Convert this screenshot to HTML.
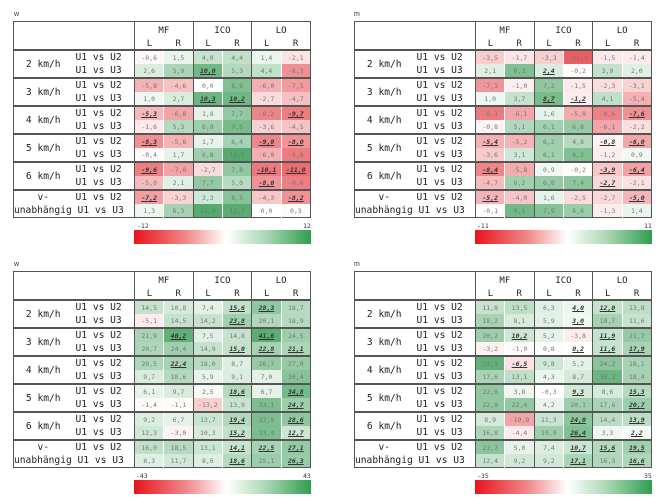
<!DOCTYPE html>
<html><head><meta charset="utf-8"><style>
body{margin:0;width:657px;height:497px;background:#fff;position:relative;overflow:hidden;font-family:"DejaVu Sans Mono","Liberation Mono",monospace;}
.t{position:absolute;font-size:7px;color:#333;font-family:"Liberation Sans",sans-serif;}
table{position:absolute;border-collapse:collapse;table-layout:fixed;width:298px;border:1.5px solid #555;}
td{padding:0;height:13px;text-align:center;font-size:6.5px;color:#777;overflow:hidden;white-space:nowrap;}
td.v{border-left:1px solid #fff;}
td.g{border-left:1px solid #555;}
tr.h1 td{height:17px;font-size:9px;color:#222;}
tr.h2 td{height:10px;font-size:9px;color:#222;}
td.s{font-size:9.6px;color:#222;text-align:center;}
td.q{font-size:9.6px;color:#222;text-align:left;padding-left:3px;}
tr.f td{border-top:2px solid #555;}
tr.hb td{border-top:2px solid #555;}
u{font-weight:bold;font-style:italic;color:#333;}
.cb{position:absolute;height:14px;width:177px;background:linear-gradient(to right,#e8141c,#f08a8a 30%,#fff 52%,#a9d6b3 75%,#2e9e4e);}
.cl{position:absolute;font-size:6.5px;color:#333;}
</style></head><body>

<div class="t" style="left:14px;top:11px">w</div>
<table data-max="12" style="left:13px;top:21px">
<colgroup><col style="width:59px"><col style="width:62px"><col><col><col><col><col><col></colgroup>
<tr class="h1"><td colspan="2" rowspan="2" style="border-right:1px solid #555"></td><td colspan="2">MF</td><td colspan="2" class="g">ICO</td><td colspan="2" class="g">LO</td></tr>
<tr class="h2"><td>L</td><td>R</td><td class="g">L</td><td>R</td><td class="g">L</td><td>R</td></tr>
<tr class="hb"><td rowspan="2" class="s">2 km/h</td><td class="q">U1 vs U2</td><td class="v g">-0,6</td><td class="v">1,5</td><td class="v g">4,0</td><td class="v">4,4</td><td class="v g">1,4</td><td class="v">-2,1</td></tr>
<tr><td class="q">U1 vs U3</td><td class="v g">2,6</td><td class="v">5,9</td><td class="v g"><u>10,0</u></td><td class="v">5,3</td><td class="v g">4,4</td><td class="v">-8,3</td></tr>
<tr class="f"><td rowspan="2" class="s">3 km/h</td><td class="q">U1 vs U2</td><td class="v g">-5,8</td><td class="v">-4,6</td><td class="v g">0,0</td><td class="v">8,9</td><td class="v g">-6,0</td><td class="v">-7,5</td></tr>
<tr><td class="q">U1 vs U3</td><td class="v g">1,0</td><td class="v">2,7</td><td class="v g"><u>10,3</u></td><td class="v"><u>10,2</u></td><td class="v g">-2,7</td><td class="v">-4,7</td></tr>
<tr class="f"><td rowspan="2" class="s">4 km/h</td><td class="q">U1 vs U2</td><td class="v g"><u>-5,3</u></td><td class="v">-6,8</td><td class="v g">1,8</td><td class="v">7,7</td><td class="v g">-9,2</td><td class="v"><u>-9,7</u></td></tr>
<tr><td class="q">U1 vs U3</td><td class="v g">-1,6</td><td class="v">5,3</td><td class="v g">6,9</td><td class="v">9,5</td><td class="v g">-3,6</td><td class="v">-4,5</td></tr>
<tr class="f"><td rowspan="2" class="s">5 km/h</td><td class="q">U1 vs U2</td><td class="v g"><u>-8,3</u></td><td class="v">-5,8</td><td class="v g">1,7</td><td class="v">6,4</td><td class="v g"><u>-9,0</u></td><td class="v"><u>-8,0</u></td></tr>
<tr><td class="q">U1 vs U3</td><td class="v g">-0,4</td><td class="v">1,7</td><td class="v g">6,8</td><td class="v">12,5</td><td class="v g">-6,0</td><td class="v">-9,8</td></tr>
<tr class="f"><td rowspan="2" class="s">6 km/h</td><td class="q">U1 vs U2</td><td class="v g"><u>-9,6</u></td><td class="v">-7,0</td><td class="v g">-2,7</td><td class="v">7,8</td><td class="v g"><u>-10,1</u></td><td class="v"><u>-11,0</u></td></tr>
<tr><td class="q">U1 vs U3</td><td class="v g">-5,0</td><td class="v">2,1</td><td class="v g">7,7</td><td class="v">5,0</td><td class="v g"><u>-8,0</u></td><td class="v">-9,6</td></tr>
<tr class="f"><td class="s">v-</td><td class="q">U1 vs U2</td><td class="v g"><u>-7,2</u></td><td class="v">-3,3</td><td class="v g">3,3</td><td class="v">8,5</td><td class="v g">-4,3</td><td class="v"><u>-8,2</u></td></tr>
<tr><td class="s" colspan="2" style="text-align:left">unabhängig U1 vs U3</td><td class="v g">1,3</td><td class="v">6,3</td><td class="v g">12,0</td><td class="v">11,7</td><td class="v g">0,0</td><td class="v">0,3</td></tr>
</table>
<div class="cl" style="left:137px;top:222px">-12</div><div class="cl" style="left:303px;top:222px">12</div>
<div class="cb" style="left:134px;top:230px"></div>

<div class="t" style="left:354px;top:11px">m</div>
<table data-max="11" style="left:354px;top:21px">
<colgroup><col style="width:59px"><col style="width:62px"><col><col><col><col><col><col></colgroup>
<tr class="h1"><td colspan="2" rowspan="2" style="border-right:1px solid #555"></td><td colspan="2">MF</td><td colspan="2" class="g">ICO</td><td colspan="2" class="g">LO</td></tr>
<tr class="h2"><td>L</td><td>R</td><td class="g">L</td><td>R</td><td class="g">L</td><td>R</td></tr>
<tr class="hb"><td rowspan="2" class="s">2 km/h</td><td class="q">U1 vs U2</td><td class="v g">-3,5</td><td class="v">-1,7</td><td class="v g">-3,3</td><td class="v">-11,1</td><td class="v g">-1,5</td><td class="v">-1,4</td></tr>
<tr><td class="q">U1 vs U3</td><td class="v g">2,1</td><td class="v">8,3</td><td class="v g"><u>2,4</u></td><td class="v">-0,2</td><td class="v g">3,9</td><td class="v">2,0</td></tr>
<tr class="f"><td rowspan="2" class="s">3 km/h</td><td class="q">U1 vs U2</td><td class="v g">-7,3</td><td class="v">-1,0</td><td class="v g">7,2</td><td class="v">-1,5</td><td class="v g">-2,3</td><td class="v">-3,1</td></tr>
<tr><td class="q">U1 vs U3</td><td class="v g">1,0</td><td class="v">3,7</td><td class="v g"><u>8,7</u></td><td class="v"><u>-1,2</u></td><td class="v g">4,1</td><td class="v">-5,4</td></tr>
<tr class="f"><td rowspan="2" class="s">4 km/h</td><td class="q">U1 vs U2</td><td class="v g">-9,1</td><td class="v">-6,1</td><td class="v g">1,6</td><td class="v">-5,8</td><td class="v g">-8,6</td><td class="v"><u>-7,6</u></td></tr>
<tr><td class="q">U1 vs U3</td><td class="v g">-0,8</td><td class="v">5,1</td><td class="v g">6,1</td><td class="v">6,8</td><td class="v g">-6,1</td><td class="v">-2,2</td></tr>
<tr class="f"><td rowspan="2" class="s">5 km/h</td><td class="q">U1 vs U2</td><td class="v g"><u>-5,4</u></td><td class="v">-5,2</td><td class="v g">6,2</td><td class="v">4,8</td><td class="v g"><u>-0,8</u></td><td class="v"><u>-6,0</u></td></tr>
<tr><td class="q">U1 vs U3</td><td class="v g">-3,6</td><td class="v">3,1</td><td class="v g">6,1</td><td class="v">8,2</td><td class="v g">-1,2</td><td class="v">0,9</td></tr>
<tr class="f"><td rowspan="2" class="s">6 km/h</td><td class="q">U1 vs U2</td><td class="v g"><u>-8,4</u></td><td class="v">-5,8</td><td class="v g">0,9</td><td class="v">-0,2</td><td class="v g"><u>-3,9</u></td><td class="v"><u>-6,4</u></td></tr>
<tr><td class="q">U1 vs U3</td><td class="v g">-4,7</td><td class="v">6,2</td><td class="v g">6,8</td><td class="v">7,4</td><td class="v g"><u>-2,7</u></td><td class="v">-2,1</td></tr>
<tr class="f"><td class="s">v-</td><td class="q">U1 vs U2</td><td class="v g"><u>-5,2</u></td><td class="v">-4,0</td><td class="v g">1,6</td><td class="v">-2,5</td><td class="v g">-2,7</td><td class="v"><u>-5,0</u></td></tr>
<tr><td class="s" colspan="2" style="text-align:left">unabhängig U1 vs U3</td><td class="v g">-0,1</td><td class="v">9,1</td><td class="v g">7,9</td><td class="v">6,6</td><td class="v g">-1,3</td><td class="v">1,4</td></tr>
</table>
<div class="cl" style="left:477px;top:222px">-11</div><div class="cl" style="left:644px;top:222px">11</div>
<div class="cb" style="left:475px;top:230px"></div>

<div class="t" style="left:14px;top:261px">w</div>
<table data-max="43" style="left:13px;top:271px">
<colgroup><col style="width:59px"><col style="width:62px"><col><col><col><col><col><col></colgroup>
<tr class="h1"><td colspan="2" rowspan="2" style="border-right:1px solid #555"></td><td colspan="2">MF</td><td colspan="2" class="g">ICO</td><td colspan="2" class="g">LO</td></tr>
<tr class="h2"><td>L</td><td>R</td><td class="g">L</td><td>R</td><td class="g">L</td><td>R</td></tr>
<tr class="hb"><td rowspan="2" class="s">2 km/h</td><td class="q">U1 vs U2</td><td class="v g">14,5</td><td class="v">10,8</td><td class="v g">7,4</td><td class="v"><u>15,6</u></td><td class="v g"><u>28,3</u></td><td class="v">18,7</td></tr>
<tr><td class="q">U1 vs U3</td><td class="v g">-5,1</td><td class="v">14,5</td><td class="v g">14,2</td><td class="v"><u>23,8</u></td><td class="v g">20,1</td><td class="v">18,9</td></tr>
<tr class="f"><td rowspan="2" class="s">3 km/h</td><td class="q">U1 vs U2</td><td class="v g">21,9</td><td class="v"><u>40,2</u></td><td class="v g">7,5</td><td class="v">14,8</td><td class="v g"><u>41,6</u></td><td class="v">24,5</td></tr>
<tr><td class="q">U1 vs U3</td><td class="v g">20,7</td><td class="v">24,4</td><td class="v g">14,9</td><td class="v"><u>15,0</u></td><td class="v g"><u>22,8</u></td><td class="v"><u>21,1</u></td></tr>
<tr class="f"><td rowspan="2" class="s">4 km/h</td><td class="q">U1 vs U2</td><td class="v g">20,5</td><td class="v"><u>22,4</u></td><td class="v g">18,0</td><td class="v">8,7</td><td class="v g">26,7</td><td class="v">27,0</td></tr>
<tr><td class="q">U1 vs U3</td><td class="v g">9,7</td><td class="v">18,6</td><td class="v g">5,9</td><td class="v">9,1</td><td class="v g">7,0</td><td class="v">30,4</td></tr>
<tr class="f"><td rowspan="2" class="s">5 km/h</td><td class="q">U1 vs U2</td><td class="v g">6,1</td><td class="v">9,7</td><td class="v g">2,5</td><td class="v"><u>18,6</u></td><td class="v g">6,7</td><td class="v"><u>34,8</u></td></tr>
<tr><td class="q">U1 vs U3</td><td class="v g">-1,4</td><td class="v">-1,1</td><td class="v g">-13,2</td><td class="v">13,9</td><td class="v g">33,1</td><td class="v"><u>24,7</u></td></tr>
<tr class="f"><td rowspan="2" class="s">6 km/h</td><td class="q">U1 vs U2</td><td class="v g">9,2</td><td class="v">6,7</td><td class="v g">13,7</td><td class="v"><u>19,4</u></td><td class="v g">32,9</td><td class="v"><u>28,6</u></td></tr>
<tr><td class="q">U1 vs U3</td><td class="v g">12,3</td><td class="v">-3,0</td><td class="v g">10,3</td><td class="v"><u>15,2</u></td><td class="v g">33,4</td><td class="v"><u>12,7</u></td></tr>
<tr class="f"><td class="s">v-</td><td class="q">U1 vs U2</td><td class="v g">16,0</td><td class="v">18,5</td><td class="v g">13,1</td><td class="v"><u>14,1</u></td><td class="v g"><u>22,5</u></td><td class="v"><u>27,1</u></td></tr>
<tr><td class="s" colspan="2" style="text-align:left">unabhängig U1 vs U3</td><td class="v g">8,3</td><td class="v">11,7</td><td class="v g">8,6</td><td class="v"><u>18,6</u></td><td class="v g">25,1</td><td class="v"><u>26,3</u></td></tr>
</table>
<div class="cl" style="left:136px;top:472px">-43</div><div class="cl" style="left:303px;top:472px">43</div>
<div class="cb" style="left:134px;top:480px"></div>

<div class="t" style="left:354px;top:261px">m</div>
<table data-max="35" style="left:354px;top:271px">
<colgroup><col style="width:59px"><col style="width:62px"><col><col><col><col><col><col></colgroup>
<tr class="h1"><td colspan="2" rowspan="2" style="border-right:1px solid #555"></td><td colspan="2">MF</td><td colspan="2" class="g">ICO</td><td colspan="2" class="g">LO</td></tr>
<tr class="h2"><td>L</td><td>R</td><td class="g">L</td><td>R</td><td class="g">L</td><td>R</td></tr>
<tr class="hb"><td rowspan="2" class="s">2 km/h</td><td class="q">U1 vs U2</td><td class="v g">11,8</td><td class="v">13,5</td><td class="v g">6,3</td><td class="v"><u>4,0</u></td><td class="v g"><u>12,0</u></td><td class="v">13,8</td></tr>
<tr><td class="q">U1 vs U3</td><td class="v g">18,2</td><td class="v">8,1</td><td class="v g">5,9</td><td class="v"><u>3,0</u></td><td class="v g">18,7</td><td class="v">11,6</td></tr>
<tr class="f"><td rowspan="2" class="s">3 km/h</td><td class="q">U1 vs U2</td><td class="v g">20,2</td><td class="v"><u>10,2</u></td><td class="v g">5,2</td><td class="v">-3,8</td><td class="v g"><u>11,9</u></td><td class="v">21,7</td></tr>
<tr><td class="q">U1 vs U3</td><td class="v g">-3,2</td><td class="v">-1,0</td><td class="v g">0,8</td><td class="v"><u>0,2</u></td><td class="v g"><u>11,6</u></td><td class="v"><u>17,9</u></td></tr>
<tr class="f"><td rowspan="2" class="s">4 km/h</td><td class="q">U1 vs U2</td><td class="v g">32,3</td><td class="v"><u>-6,5</u></td><td class="v g">9,8</td><td class="v">5,2</td><td class="v g">24,2</td><td class="v">18,1</td></tr>
<tr><td class="q">U1 vs U3</td><td class="v g">17,6</td><td class="v">13,1</td><td class="v g">4,3</td><td class="v">8,7</td><td class="v g">30,3</td><td class="v">18,4</td></tr>
<tr class="f"><td rowspan="2" class="s">5 km/h</td><td class="q">U1 vs U2</td><td class="v g">22,6</td><td class="v">3,8</td><td class="v g">-0,3</td><td class="v"><u>9,3</u></td><td class="v g">8,6</td><td class="v"><u>15,3</u></td></tr>
<tr><td class="q">U1 vs U3</td><td class="v g">22,8</td><td class="v">22,4</td><td class="v g">4,2</td><td class="v">20,1</td><td class="v g">17,6</td><td class="v"><u>20,7</u></td></tr>
<tr class="f"><td rowspan="2" class="s">6 km/h</td><td class="q">U1 vs U2</td><td class="v g">8,9</td><td class="v">-19,9</td><td class="v g">11,3</td><td class="v"><u>24,0</u></td><td class="v g">14,4</td><td class="v"><u>13,9</u></td></tr>
<tr><td class="q">U1 vs U3</td><td class="v g">16,8</td><td class="v">-4,4</td><td class="v g">19,9</td><td class="v"><u>26,4</u></td><td class="v g">3,3</td><td class="v"><u>2,2</u></td></tr>
<tr class="f"><td class="s">v-</td><td class="q">U1 vs U2</td><td class="v g">23,7</td><td class="v">5,0</td><td class="v g">7,4</td><td class="v"><u>10,7</u></td><td class="v g"><u>15,6</u></td><td class="v"><u>19,5</u></td></tr>
<tr><td class="s" colspan="2" style="text-align:left">unabhängig U1 vs U3</td><td class="v g">12,4</td><td class="v">9,2</td><td class="v g">9,2</td><td class="v"><u>17,1</u></td><td class="v g">16,3</td><td class="v"><u>16,6</u></td></tr>
</table>
<div class="cl" style="left:477px;top:472px">-35</div><div class="cl" style="left:644px;top:472px">35</div>
<div class="cb" style="left:475px;top:480px"></div>

<script>
document.querySelectorAll('table').forEach(function(t){
  var m=parseFloat(t.getAttribute('data-max'));
  t.querySelectorAll('td.v').forEach(function(c){
    var v=parseFloat(c.textContent.replace(',','.'));
    var k=Math.min(1,Math.abs(v)/m);
    var r,g,b;
    if(v<0){r=255+(232-255)*k;g=255+(95-255)*k;b=255+(100-255)*k;}
    else{r=255+(85-255)*k;g=255+(170-255)*k;b=255+(110-255)*k;}
    c.style.backgroundColor='rgb('+Math.round(r)+','+Math.round(g)+','+Math.round(b)+')';
  });
});
</script>
</body></html>
